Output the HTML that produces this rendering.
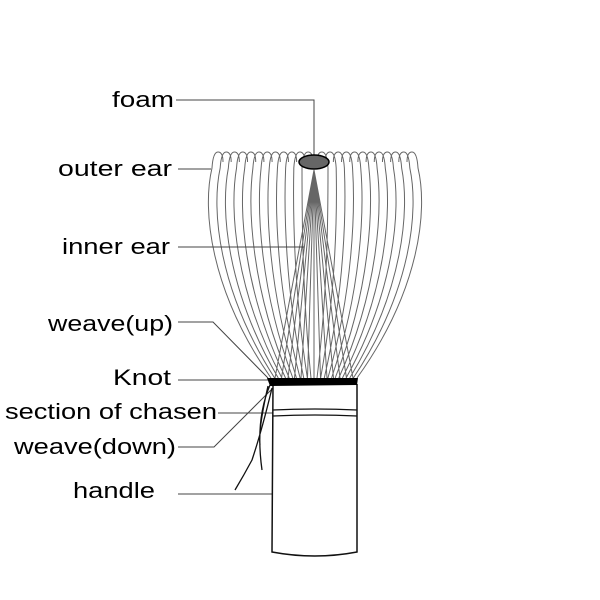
<!DOCTYPE html>
<html><head><style>
body{margin:0;background:#fff}
svg{display:block}
text{font-family:"Liberation Sans","DejaVu Sans",sans-serif;font-size:22px;fill:#000}
</style></head><body>
<svg id="s" width="600" height="600" viewBox="0 0 600 600" xmlns="http://www.w3.org/2000/svg">
<g id="tines" fill="none" stroke="#666" stroke-width="1"></g>
<g fill="none" stroke="#444" stroke-width="1">
<polyline points="176,100 314,100 314,156"/>
<line x1="178" y1="169" x2="211" y2="169"/>
<line x1="178" y1="247" x2="304" y2="247"/>
<polyline points="178,322 213,322 268,378"/>
<line x1="178" y1="380" x2="268" y2="380"/>
<line x1="218" y1="413" x2="273" y2="413"/>
<polyline points="178,447 214,447 273,388"/>
<line x1="178" y1="494" x2="273" y2="494"/>
</g>
<ellipse cx="314" cy="162" rx="15" ry="7" fill="#666" stroke="#000" stroke-width="1.5"/>
<path d="M273,384 L272,552 Q315,560 357,552 L357,384" fill="none" stroke="#111" stroke-width="1.5"/>
<path d="M273,410 Q315,408 357,410 M273,416 Q315,414 357,416" fill="none" stroke="#111" stroke-width="1.2"/>
<path d="M267,378 L358,378 L357,385 L270,386 Z" fill="#000"/>
<path d="M270,385 Q255,420 262,470 M272,388 Q262,430 252,460 Q244,475 235,490 M268,386 Q258,430 260,445" fill="none" stroke="#111" stroke-width="1.3"/>
<text x="112" y="107" textLength="62" lengthAdjust="spacingAndGlyphs">foam</text>
<text x="58" y="176" textLength="114" lengthAdjust="spacingAndGlyphs">outer ear</text>
<text x="62" y="254" textLength="108" lengthAdjust="spacingAndGlyphs">inner ear</text>
<text x="48" y="331" textLength="125" lengthAdjust="spacingAndGlyphs">weave(up)</text>
<text x="113" y="385" textLength="58" lengthAdjust="spacingAndGlyphs">Knot</text>
<text x="5" y="419" textLength="212" lengthAdjust="spacingAndGlyphs">section of chasen</text>
<text x="14" y="454" textLength="162" lengthAdjust="spacingAndGlyphs">weave(down)</text>
<text x="73" y="498" textLength="82" lengthAdjust="spacingAndGlyphs">handle</text>
</svg>
<script>
var g=document.getElementById('tines'),d='';
var N=12;
for(var k=0;k<N;k++){
  var t=k/(N-1);
  var xt=212+t*90, xb=271+t*40;
  var bulge=(1-t)*10;
  d+='M'+xb+',378 C'+(xt-bulge*0.2)+',290 '+(xt-bulge)+',210 '+xt+',168 Q'+(xt+1)+',152 '+(xt+6)+',152 Q'+(xt+11)+',152 '+(xt+11)+',162 ';
  var xr=418-t*90, xbr=357-t*40;
  d+='M'+xbr+',378 C'+(xr+bulge*0.2)+',290 '+(xr+bulge)+',210 '+xr+',168 Q'+(xr-1)+',152 '+(xr-6)+',152 Q'+(xr-11)+',152 '+(xr-11)+',162 ';
}
for(var i=0;i<=12;i++){
  var xb2=275+i*6.5;
  d+='M314,170 L'+xb2+',378 ';
}
var p=document.createElementNS('http://www.w3.org/2000/svg','path');
p.setAttribute('d',d);g.appendChild(p);
</script>
</body></html>
